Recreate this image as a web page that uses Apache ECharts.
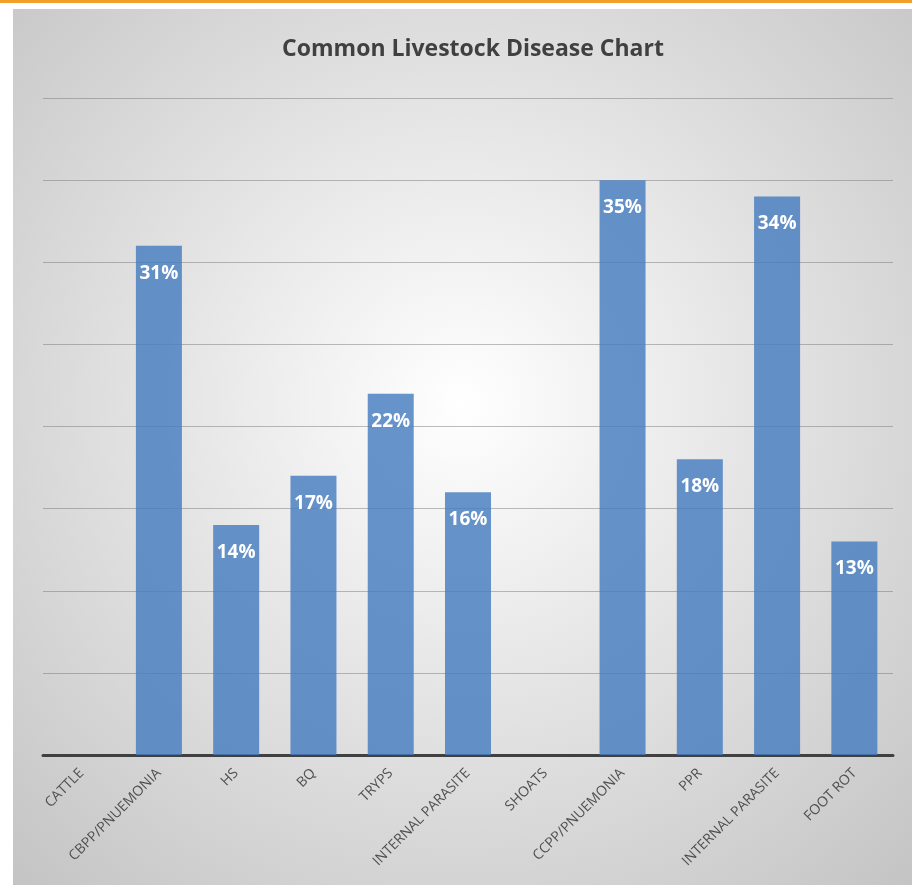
<!DOCTYPE html>
<html>
<head>
    <meta charset="UTF-8">
    <title>Common Livestock Disease Chart</title>
    <script src="https://cdn.jsdelivr.net/npm/echarts@6/dist/echarts.min.js"></script>
    <style>
        body { margin: 0; background: #fff; }
    </style>
</head>
<body>
<div id="chart" style="width: 912px; height: 885px;"></div>

<script>
    const diseases = ['CATTLE', 'CBPP/PNUEMONIA', 'HS', 'BQ', 'TRYPS', 'INTERNAL PARASITE',
        'SHOATS', 'CCPP/PNUEMONIA', 'PPR', 'INTERNAL PARASITE', 'FOOT ROT'];
    const percents = [0, 31, 14, 17, 22, 16, 0, 35, 18, 34, 13];
    const yTicks = [0, 5, 10, 15, 20, 25, 30, 35, 40];

    const chart = echarts.init(document.getElementById('chart'));
    const option = {
        animation: false,
        graphic: [
            {
                type: 'rect',
                z: -10,
                shape: { x: 0, y: 0, width: 912, height: 3 },
                style: { fill: '#f0a028' }
            },
            {
                type: 'rect',
                z: -10,
                shape: { x: 13, y: 9, width: 899, height: 876 },
                style: {
                    fill: {
                        type: 'radial', x: 0.5, y: 0.45, r: 0.75,
                        colorStops: [
                            { offset: 0, color: '#ffffff' },
                            { offset: 1, color: '#c4c4c4' }
                        ]
                    }
                }
            }
        ],
        title: {
            text: 'Common Livestock Disease Chart',
            left: 468,
            textAlign: 'center',
            top: 33,
            textStyle: {
                fontFamily: 'Open Sans',
                fontWeight: 'bold',
                fontSize: 23,
                color: '#404040'
            }
        },
        grid: {
            left: 43,
            right: 19,
            top: 98,
            bottom: 130,
            containLabel: false
        },
        xAxis: {
            type: 'category',
            data: diseases,
            axisTick: { show: false },
            axisLine: { lineStyle: { color: '#404040', width: 3 } },
            axisLabel: {
                interval: 0,
                rotate: 45,
                margin: 16,
                color: '#505050',
                fontFamily: 'Open Sans',
                fontSize: 14
            }
        },
        yAxis: {
            type: 'value',
            min: yTicks[0],
            max: yTicks[yTicks.length - 1],
            interval: 5,
            axisLabel: { show: false },
            axisLine: { show: false },
            axisTick: { show: false },
            splitLine: { lineStyle: { color: 'rgba(110,110,110,0.45)', width: 1 } }
        },
        series: [
            {
                type: 'bar',
                data: percents,
                barWidth: 46,
                itemStyle: {
                    color: 'rgba(70,124,192,0.82)'
                },
                label: {
                    show: true,
                    position: 'insideTop',
                    distance: 18,
                    color: '#fff',
                    fontFamily: 'Open Sans',
                    fontWeight: 'bold',
                    fontSize: 19,
                    formatter: p => p.value ? p.value + '%' : ''
                }
            }
        ]
    };

    chart.setOption(option);
</script>
</body>
</html>
